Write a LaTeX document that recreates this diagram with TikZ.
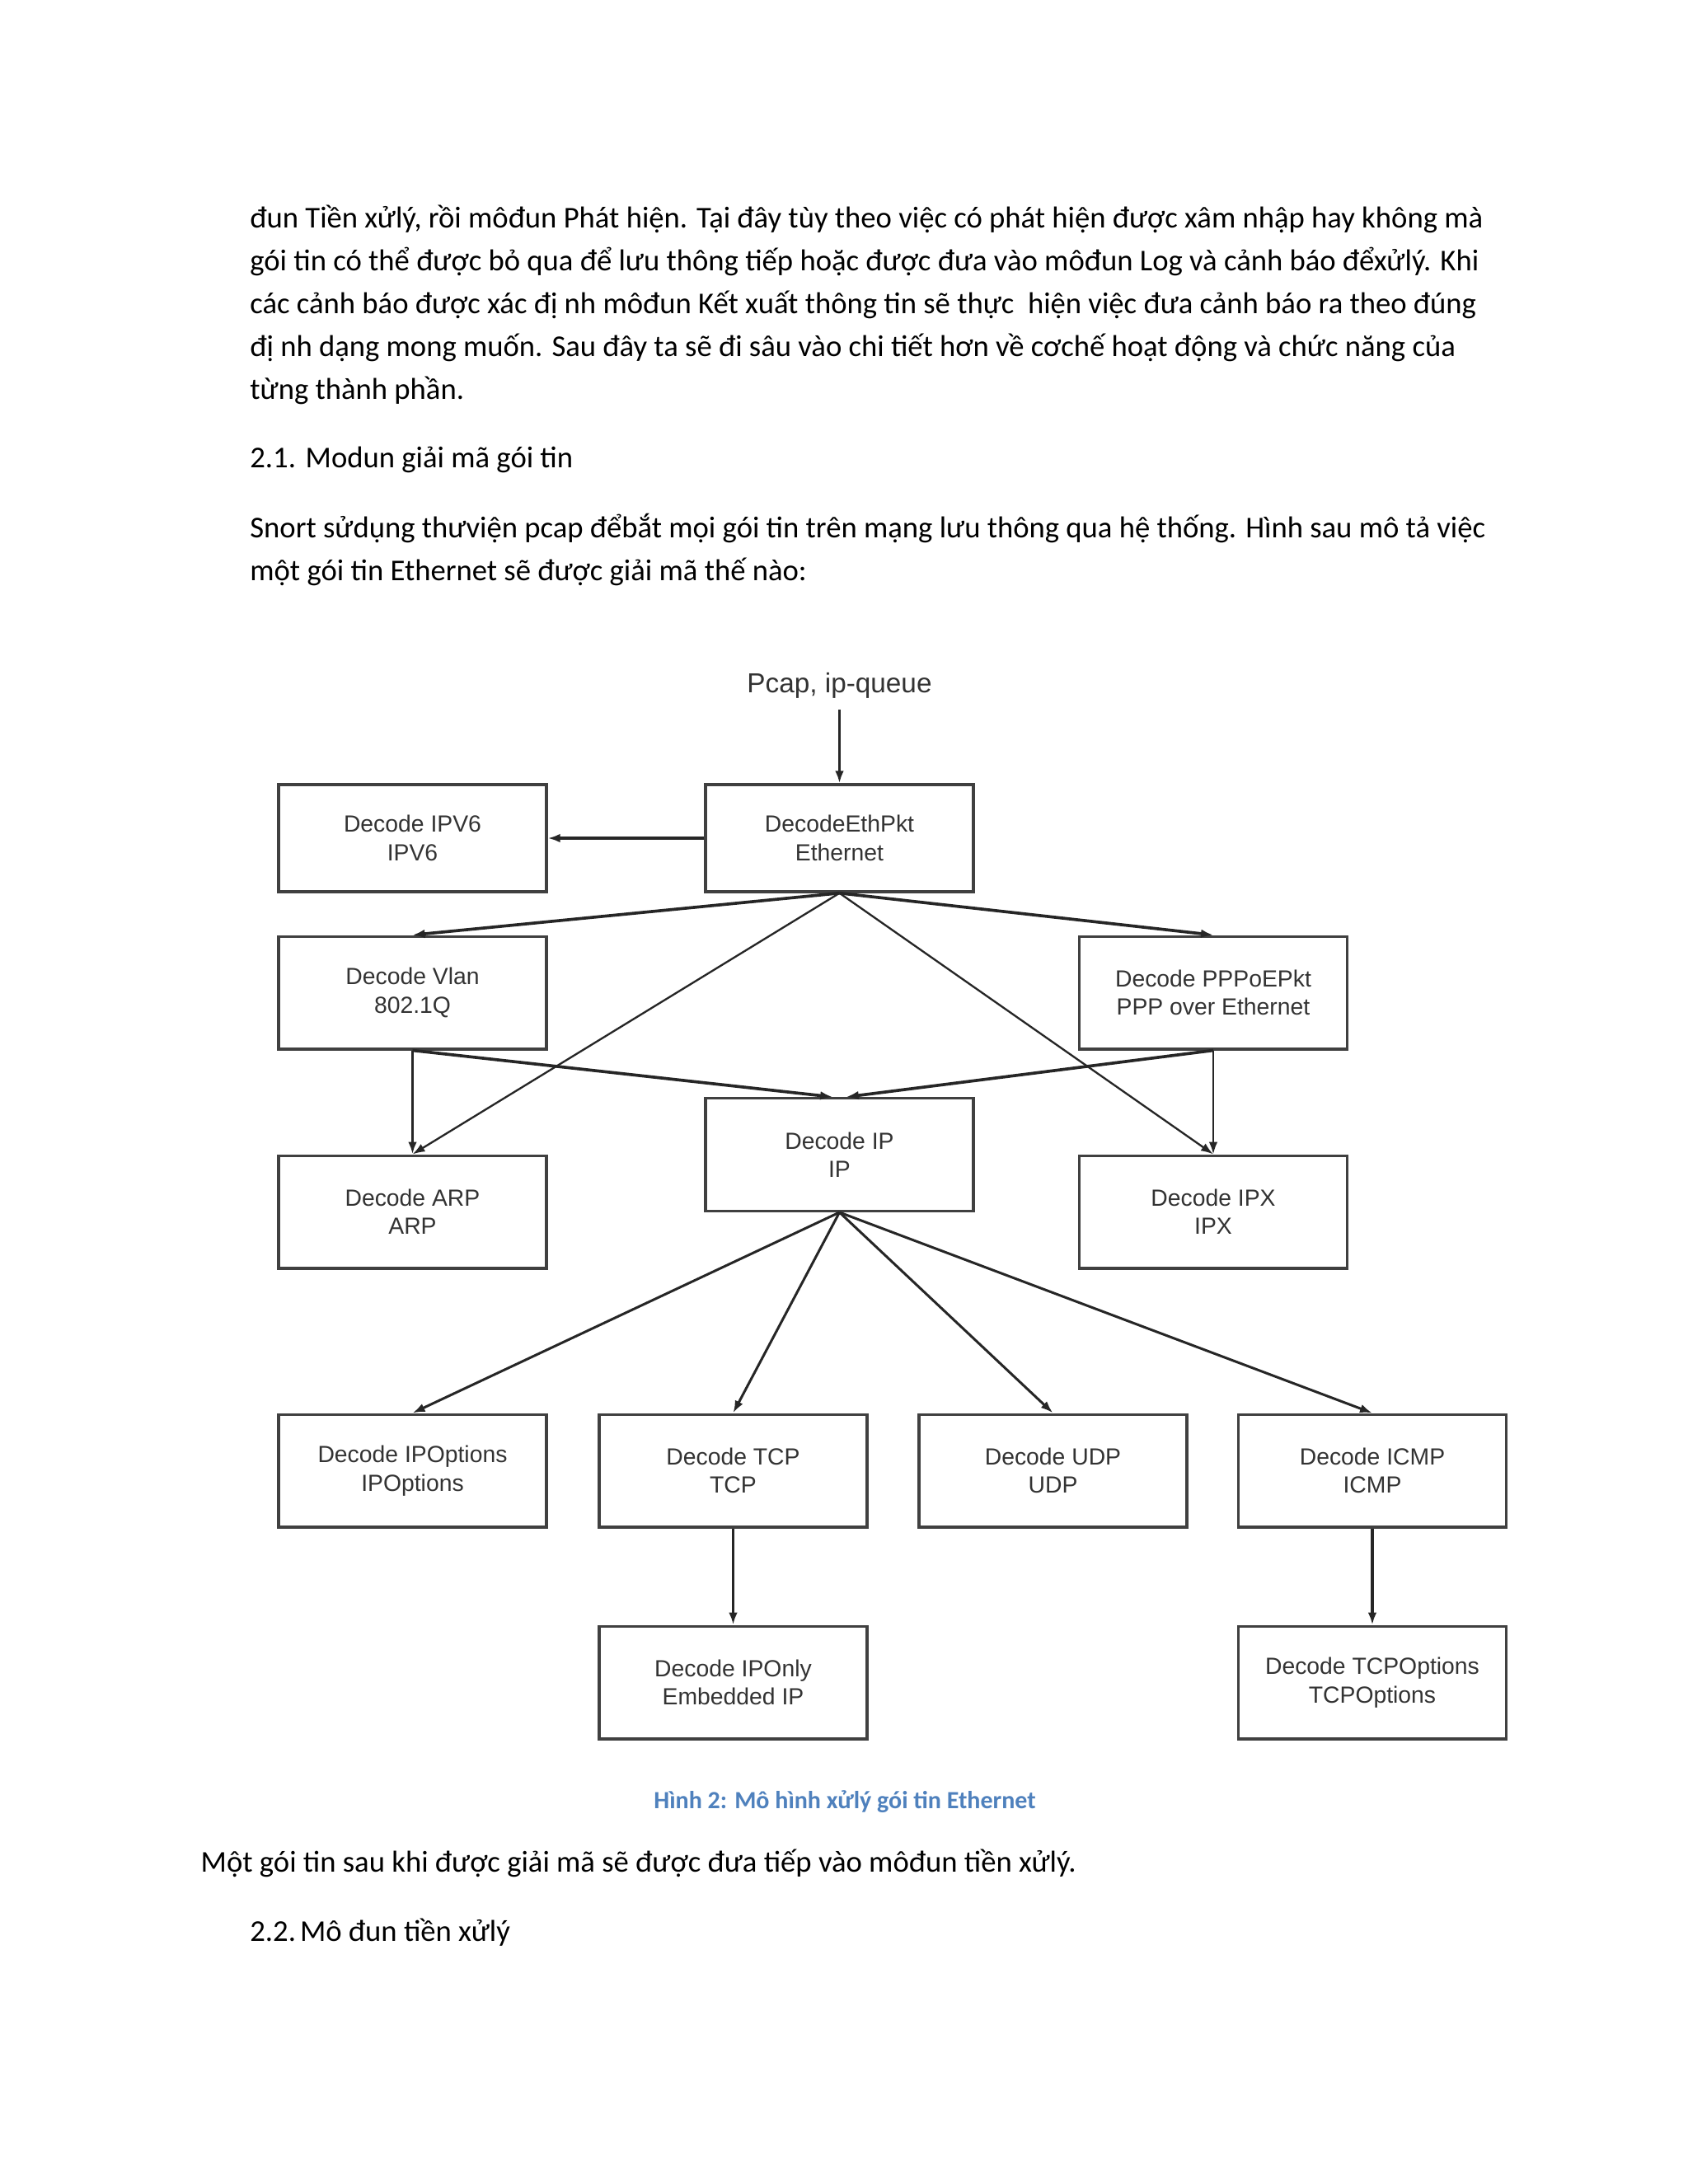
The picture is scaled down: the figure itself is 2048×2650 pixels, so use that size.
\documentclass[tikz,border=0pt]{standalone}
\usepackage{fontspec}
\setmainfont{Carlito}
\newfontfamily\diagfont{Liberation Sans}
\usetikzlibrary{arrows.meta}
\definecolor{captionblue}{HTML}{4F81BD}

\tikzset{
  decoder/.style={rectangle, draw=black!75, line width=1pt, minimum width=97.5pt, minimum height=41pt,
    align=center, text=black!80, font=\diagfont\fontsize{8.5}{10.3}\selectfont},
  bodyline/.style={anchor=base west, inner sep=0pt, font=\fontsize{11}{13}\selectfont},
  feed/.style={->, draw=black!85, line width=0.7pt},
  heavyfeed/.style={feed, line width=1.1pt},
}

\begin{document}
\begin{tikzpicture}[x=0.3pt, y=-0.3pt, >={Latex[length=4.5pt,width=3.2pt]}]
  \useasboundingbox (0,0) rectangle (2048,2650);
  \fill[white] (0,0) rectangle (2048,2650);

  % text above the figure
  \node (para-1) [bodyline] at (302.7, 276) {đun Tiền xửlý, rồi môđun Phát hiện. Tại đây tùy theo việc có phát hiện được xâm nhập hay không mà};
  \node (para-2) [bodyline] at (302.7, 328) {gói tin có thể được bỏ qua để lưu thông tiếp hoặc được đưa vào môđun Log và cảnh báo đểxửlý. Khi};
  \node (para-3) [bodyline] at (302.7, 380) {các cảnh báo được xác đị nh môđun Kết xuất thông tin sẽ thực \ hiện việc đưa cảnh báo ra theo đúng};
  \node (para-4) [bodyline] at (302.7, 432) {đị nh dạng mong muốn. Sau đây ta sẽ đi sâu vào chi tiết hơn về cơchế hoạt động và chức năng của};
  \node (para-5) [bodyline] at (302.7, 484) {từng thành phần.};
  \node (head-1) [bodyline] at (302.7, 567) {2.1.\hspace{3.5pt}Modun giải mã gói tin};
  \node (para-6) [bodyline] at (302.7, 652) {Snort sửdụng thưviện pcap đểbắt mọi gói tin trên mạng lưu thông qua hệ thống. Hình sau mô tả việc};
  \node (para-7) [bodyline] at (302.7, 704) {một gói tin Ethernet sẽ được giải mã thế nào:};

  % decoder boxes
  \node (pcap) [anchor=base, inner sep=4pt, text=black!80, font=\diagfont\fontsize{10}{12}\selectfont] at (1018.5, 840) {Pcap, ip-queue};
  \node (eth-pkt) [decoder, minimum height=39pt] at (1018.5, 1017) {DecodeEthPkt\\Ethernet};
  \node (ipv6) [decoder, minimum height=39pt] at (500.5, 1017) {Decode IPV6\\IPV6};
  \node (vlan) [decoder] at (500.5, 1204.5) {Decode Vlan\\802.1Q};
  \node (pppoe) [decoder] at (1472, 1204.5) {Decode PPPoEPkt\\PPP over Ethernet};
  \node (ip) [decoder] at (1018.5, 1401) {Decode IP\\IP};
  \node (arp) [decoder] at (500.5, 1470.5) {Decode ARP\\ARP};
  \node (ipx) [decoder] at (1472, 1470.5) {Decode IPX\\IPX};
  \node (ip-opts) [decoder] at (500.5, 1784.5) {Decode IPOptions\\IPOptions};
  \node (tcp) [decoder] at (889.5, 1784.5) {Decode TCP\\TCP};
  \node (udp) [decoder] at (1277.5, 1784.5) {Decode UDP\\UDP};
  \node (icmp) [decoder] at (1665, 1784.5) {Decode ICMP\\ICMP};
  \node (ip-only) [decoder] at (889.5, 2041.5) {Decode IPOnly\\Embedded IP};
  \node (tcp-opts) [decoder] at (1665, 2041.5) {Decode TCPOptions\\TCPOptions};

  \draw[heavyfeed] (pcap.south) -- (eth-pkt.north);
  \draw[heavyfeed] (eth-pkt.west) -- (ipv6.east);
  \draw[heavyfeed] (eth-pkt.south) -- (vlan.north);
  \draw[heavyfeed] (eth-pkt.south) -- (pppoe.north);
  \draw[feed] (eth-pkt.south) -- (arp.north);
  \draw[feed] (eth-pkt.south) -- (ipx.north);
  \draw[heavyfeed] (vlan.south) -- (arp.north);
  \draw[heavyfeed] (vlan.south) -- ([xshift=-2.5pt]ip.north);
  \draw[heavyfeed] (pppoe.south) -- ([xshift=2.5pt]ip.north);
  \draw[feed] (pppoe.south) -- (ipx.north);
  \draw[feed, line width=0.9pt] (ip.south) -- (ip-opts.north);
  \draw[feed, line width=0.9pt] (ip.south) -- (tcp.north);
  \draw[feed, line width=0.9pt] (ip.south) -- (udp.north);
  \draw[feed, line width=0.9pt] (ip.south) -- (icmp.north);
  \draw[heavyfeed] (tcp.south) -- (ip-only.north);
  \draw[heavyfeed] (icmp.south) -- (tcp-opts.north);

  % caption and text below
  \node (caption) [anchor=base, inner sep=0pt, text=captionblue, font=\bfseries\fontsize{9}{11}\selectfont] at (1025, 2194) {Hình 2: Mô hình xửlý gói tin Ethernet};
  \node (para-8) [bodyline] at (243, 2271) {Một gói tin sau khi được giải mã sẽ được đưa tiếp vào môđun tiền xửlý.};
  \node (head-2) [bodyline] at (302.7, 2355) {2.2.\hspace{1.5pt}Mô đun tiền xửlý};
\end{tikzpicture}
\end{document}
